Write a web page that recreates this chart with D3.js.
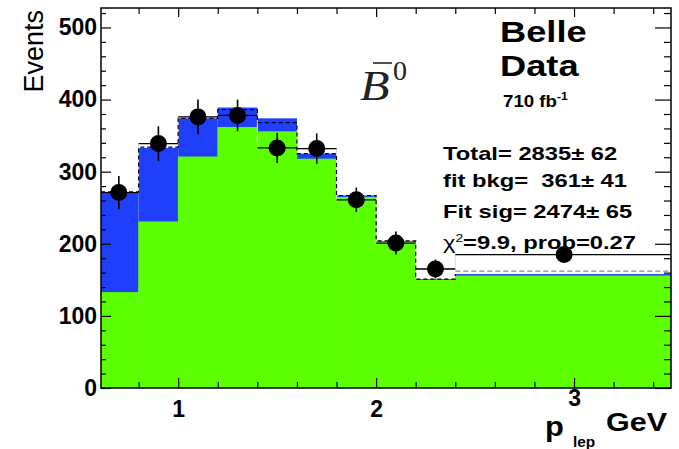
<!DOCTYPE html>
<html>
<head>
<meta charset="utf-8">
<script src="https://cdn.jsdelivr.net/npm/d3@7"></script>
<style>
  body { margin: 0; background: #fff; }
  svg { display: block; }
  text { font-family: "Liberation Sans", Arial, sans-serif; white-space: pre; }
</style>
</head>
<body>
<svg id="chart"></svg>
<script>
// bin edges in p_lep (GeV), last bin is wide
const binEdges = [0.6, 0.8, 1.0, 1.2, 1.4, 1.6, 1.8, 2.0, 2.2, 2.4, 3.5];
// signal (green) and signal+background (blue top)
const sigVals = [133, 231, 321, 362, 356, 318, 265, 203, 150, 156];
const totVals = [272, 333, 374, 389, 374, 325, 267, 204, 151, 158];
// total fit, dashed
const fitVals = [272, 334, 374, 386, 368, 325, 267, 204, 151, 162];
// data points
const dataVals = [271, 339, 376, 378, 333, 332, 261, 201, 165, 185];
const dataErr = [23, 24, 24, 22, 21, 21, 17, 16, 13, 8];

const yMajor = [0, 100, 200, 300, 400, 500];
const xMajor = [1, 2, 3];
const statLines = ['Total= 2835\u00b1 62', 'fit bkg=  361\u00b1 41', 'Fit sig= 2474\u00b1 65'];

const W = 679, H = 449;
const svg = d3.select('#chart').attr('width', W).attr('height', H);

const x = d3.scaleLinear().domain([0.61, 3.49]).range([101, 671]).clamp(true);
const y = d3.scaleLinear().domain([0, 527]).range([388, 8]);

const bins = sigVals.map((s, i) => ({
  x0: binEdges[i], x1: binEdges[i + 1], sig: s, tot: totVals[i], fit: fitVals[i],
  val: dataVals[i], err: dataErr[i]
}));

// blue = sig + bkg
svg.selectAll('.bkg')
.data(bins)
.enter()
.append('rect')
.attr('class', 'bkg')
.attr('x', d => x(d.x0))
.attr('width', d => x(d.x1) - x(d.x0))
.attr('y', d => y(d.tot))
.attr('height', d => y(0) - y(d.tot))
.attr('fill', '#1f3ffb');

// green = signal
svg.selectAll('.sig')
.data(bins)
.enter()
.append('rect')
.attr('class', 'sig')
.attr('x', d => x(d.x0) - 0.3)
.attr('width', d => x(d.x1) - x(d.x0) + 0.6)
.attr('y', d => y(d.sig))
.attr('height', d => y(0) - y(d.sig))
.attr('fill', '#5cff00');

// faint data histogram outline
const stepData = [];
bins.forEach(d => { stepData.push([d.x0, d.val]); stepData.push([d.x1, d.val]); });
svg.append('path')
.datum(stepData)
.attr('fill', 'none')
.attr('stroke', '#d8d8d8')
.attr('stroke-width', 1)
.attr('d', d3.line().x(d => x(d[0])).y(d => y(d[1])));

// dashed total fit
const stepFit = [];
bins.slice(0, 9).forEach(d => { stepFit.push([d.x0, d.fit]); stepFit.push([d.x1, d.fit]); });
stepFit.push([bins[9].x0, bins[9].tot]);
svg.append('path')
.datum(stepFit)
.attr('fill', 'none')
.attr('stroke', '#000')
.attr('stroke-width', 1.2)
.attr('stroke-dasharray', '4,3')
.attr('d', d3.line().x(d => x(d[0])).y(d => y(d[1])));

svg.append('line')
.attr('x1', x(bins[9].x0)).attr('x2', x(bins[9].x1))
.attr('y1', y(bins[9].fit)).attr('y2', y(bins[9].fit))
.attr('stroke', '#888')
.attr('stroke-width', 1.2)
.attr('stroke-dasharray', '5,3');

// data points with error bars
const pts = svg.append('g');
pts.selectAll('.xerr')
.data(bins)
.enter()
.append('line')
.attr('x1', d => x(d.x0)).attr('x2', d => x(d.x1))
.attr('y1', d => y(d.val)).attr('y2', d => y(d.val))
.attr('stroke', '#000').attr('stroke-width', 1.3);

pts.selectAll('.yerr')
.data(bins)
.enter()
.append('line')
.attr('x1', d => x((d.x0 + d.x1) / 2)).attr('x2', d => x((d.x0 + d.x1) / 2))
.attr('y1', d => y(d.val - d.err)).attr('y2', d => y(d.val + d.err))
.attr('stroke', '#000').attr('stroke-width', 1.6);

pts.selectAll('circle')
.data(bins)
.enter()
.append('circle')
.attr('cx', d => x((d.x0 + d.x1) / 2))
.attr('cy', d => y(d.val))
.attr('r', 8.5)
.attr('fill', '#000');

// ticks on all four sides, pointing inward
const yMinor = d3.range(0, 521, 20).filter(v => v % 100 !== 0);
const xMinor = d3.range(0.8, 3.45, 0.2).map(v => +v.toFixed(1)).filter(v => v % 1 !== 0);

function tickAxis(axis, tx, ty) {
  const g = svg.append('g').attr('transform', `translate(${tx},${ty})`).call(axis);
  g.select('.domain').remove();
  g.selectAll('line').attr('stroke', '#000').attr('stroke-width', 1.2);
  return g;
}

const yAx = tickAxis(d3.axisLeft(y).tickValues(yMajor).tickSize(-10).tickSizeOuter(0).tickPadding(4), 101, 0);
yAx.selectAll('text')
.style('font-size', '23px').style('font-weight', 'bold').attr('fill', '#000');
tickAxis(d3.axisLeft(y).tickValues(yMinor).tickSize(-5).tickSizeOuter(0).tickFormat(''), 101, 0);
tickAxis(d3.axisRight(y).tickValues(yMajor).tickSize(-16).tickSizeOuter(0).tickFormat(''), 671, 0);
tickAxis(d3.axisRight(y).tickValues(yMinor).tickSize(-7).tickSizeOuter(0).tickFormat(''), 671, 0);

const xAx = tickAxis(d3.axisBottom(x).tickValues(xMajor).tickSize(-10).tickSizeOuter(0)
  .tickPadding(13).tickFormat(d3.format('d')), 0, 388);
xAx.selectAll('text')
.style('font-size', '23px').style('font-weight', 'bold').attr('fill', '#000');
xAx.selectAll('.tick').filter(d => d === 3).select('text').attr('y', 2);
tickAxis(d3.axisBottom(x).tickValues(xMinor).tickSize(-6).tickSizeOuter(0).tickFormat(''), 0, 388);
tickAxis(d3.axisTop(x).tickValues(xMajor).tickSize(-9).tickSizeOuter(0).tickFormat(''), 0, 8);
tickAxis(d3.axisTop(x).tickValues(xMinor).tickSize(-6).tickSizeOuter(0).tickFormat(''), 0, 8);

// frame
svg.append('rect')
.attr('x', 101).attr('y', 8)
.attr('width', 570).attr('height', 380)
.attr('fill', 'none')
.attr('stroke', '#000')
.attr('stroke-width', 1.5);

// text helper, glyphs in the picture are a bit wide
function wideText(tx, ty, size, sx, str, weight) {
  return svg.append('g')
  .attr('transform', `translate(${tx},${ty}) scale(${sx},1)`)
  .append('text')
  .style('font-size', size + 'px')
  .style('font-weight', weight || 'bold')
  .attr('fill', '#000')
  .text(str);
}

svg.append('text')
.attr('transform', 'translate(43,10) rotate(-90)')
.attr('text-anchor', 'end')
.style('font-size', '27px')
.text('Events');

wideText(500, 42, 29, 1.25, 'Belle');
wideText(500, 76, 29, 1.25, 'Data');
const lumi = wideText(503, 107, 17, 1.1, '710 fb');
lumi.append('tspan').attr('dy', -7).style('font-size', '11px').text('-1');

statLines.forEach((s, i) => {
  wideText(443, [160, 187, 218][i], 19, 1.25, s);
});
const chi = wideText(443, 249, 19, 1.25, '\u03c7');
chi.style('font-weight', 'normal');
chi.append('tspan').attr('dy', -7).style('font-size', '11px').text('2');
chi.append('tspan').attr('dy', 7).style('font-weight', 'bold').text('=9.9, prob=0.27');

// B-bar zero
svg.append('g')
.attr('transform', 'translate(360,100) scale(1.15,1)')
.append('text')
.style('font-family', '"Liberation Serif", "DejaVu Serif", serif')
.style('font-style', 'italic')
.style('font-size', '42px')
.attr('fill', '#222')
.text('B');
svg.append('line')
.attr('x1', 373).attr('x2', 392).attr('y1', 63).attr('y2', 63)
.attr('stroke', '#222').attr('stroke-width', 1.6);
svg.append('text')
.attr('x', 393).attr('y', 80)
.style('font-family', '"Liberation Serif", "DejaVu Serif", serif')
.style('font-size', '28px')
.attr('fill', '#222')
.text('0');

// x axis title
wideText(545, 436, 28, 1.1, 'p');
wideText(573, 447, 14, 1.1, 'lep');
wideText(606, 431, 25, 1.22, 'GeV');
</script>
</body>
</html>
